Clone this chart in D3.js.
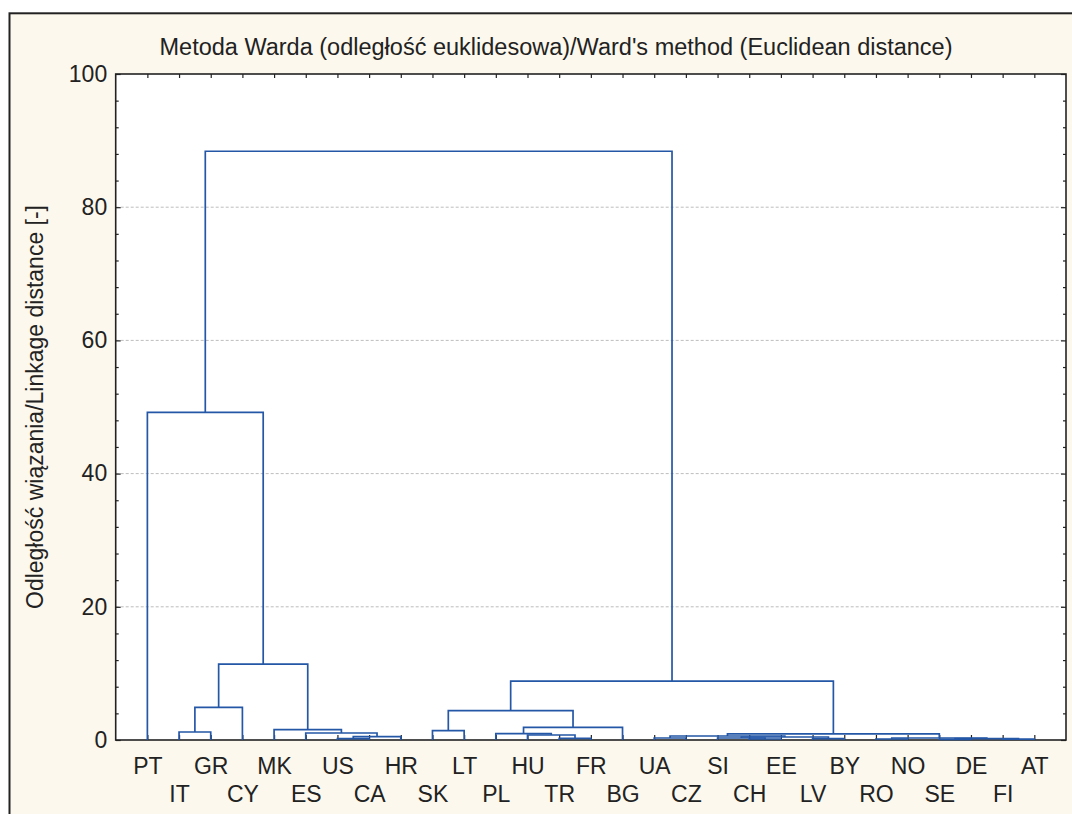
<!DOCTYPE html>
<html>
<head>
<meta charset="utf-8">
<script src="https://cdn.jsdelivr.net/npm/d3@7"></script>
<style>
  body { margin: 0; background: #fff; }
  text { font-family: "Liberation Sans", Arial, sans-serif; fill: #222; }
</style>
</head>
<body>
<div id="chart"></div>
<script>
//Leaf order along the x axis
const leaves = ["PT","IT","GR","CY","MK","ES","US","CA","HR","SK","LT","PL","HU","TR","FR",
                "BG","UA","CZ","SI","CH","EE","LV","BY","RO","NO","SE","DE","FI","AT"];

//Merges: [left, right, linkage distance] - a string is a leaf, a number is an earlier merge
const merges = [
    ["IT","GR",1.2],     //0
    [0,"CY",4.9],        //1
    ["US","CA",0.2],     //2
    [2,"HR",0.5],        //3
    ["ES",3,1.05],       //4
    ["MK",4,1.55],       //5
    [1,5,11.4],          //6
    ["PT",6,49.2],       //7
    ["SK","LT",1.4],     //8
    ["TR","FR",0.25],    //9
    ["HU",9,0.75],       //10
    ["PL",10,0.95],      //11
    [11,"BG",1.9],       //12
    [8,12,4.4],          //13
    ["UA","CZ",0.3],     //14
    ["CH","EE",0.15],    //15
    ["SI",15,0.3],       //16
    ["LV","BY",0.2],     //17
    [16,17,0.45],        //18
    [14,18,0.6],         //19
    ["RO","NO",0.15],    //20
    ["SE","DE",0.1],     //21
    ["FI","AT",0.12],    //22
    [21,22,0.2],         //23
    [20,23,0.3],         //24
    [19,24,0.92],        //25
    [13,25,8.85],        //26
    [7,26,88.4]          //27
];

//Axis ticks
const majorTicks = [0, 20, 40, 60, 80, 100];
const minorTicks = d3.range(0, 101, 4).filter(v => v % 20 !== 0);

const title = "Metoda Warda (odległość euklidesowa)/Ward's method (Euclidean distance)";
const yTitle = "Odległość wiązania/Linkage distance [-]";

//SCRIPT PROPERTIES
const w = 1072, h = 814;
const plot = {left: 115.7, right: 1066, top: 74, bottom: 740};
const lineColor = "#2557a7";

const svg = d3.select("#chart").append("svg")
    .attr("width", w)
    .attr("height", h);

//Outer frame with cream fill
svg.append("rect")
    .attr("x", 9.5).attr("y", 13.3)
    .attr("width", w + 20).attr("height", h + 20)
    .attr("fill", "#fcf8ed")
    .attr("stroke", "#222")
    .attr("stroke-width", 2);

//Plot area
svg.append("rect")
    .attr("x", plot.left).attr("y", plot.top)
    .attr("width", plot.right - plot.left).attr("height", plot.bottom - plot.top)
    .attr("fill", "#fff");

//Scales
const x = d3.scalePoint().domain(leaves).range([plot.left, plot.right]).padding(1);
const y = d3.scaleLinear().domain([0, 100]).range([plot.bottom, plot.top]);

//Grid lines
svg.append("g")
    .selectAll("line")
    .data(majorTicks.filter(v => v > 0 && v < 100))
    .enter().append("line")
    .attr("x1", plot.left).attr("x2", plot.right)
    .attr("y1", d => y(d)).attr("y2", d => y(d))
    .attr("stroke", "#bdbdbd")
    .attr("stroke-width", 1)
    .attr("stroke-dasharray", "3,2");

//Left axis - major with labels, minor without
const leftMajor = svg.append("g")
    .attr("transform", `translate(${plot.left},0)`)
    .call(d3.axisLeft(y).tickValues(majorTicks).tickSize(-5).tickSizeOuter(0).tickPadding(8.5));
svg.append("g")
    .attr("transform", `translate(${plot.left},0)`)
    .call(d3.axisLeft(y).tickValues(minorTicks).tickSize(-3).tickSizeOuter(0).tickFormat(""));

//Right axis
svg.append("g")
    .attr("transform", `translate(${plot.right},0)`)
    .call(d3.axisRight(y).tickValues(majorTicks).tickSize(-5).tickSizeOuter(0).tickFormat(""));
svg.append("g")
    .attr("transform", `translate(${plot.right},0)`)
    .call(d3.axisRight(y).tickValues(minorTicks).tickSize(-3).tickSizeOuter(0).tickFormat(""));

//Bottom axis with two staggered rows of labels
const bottomAxis = svg.append("g")
    .attr("transform", `translate(0,${plot.bottom})`)
    .call(d3.axisBottom(x).tickSize(-5).tickSizeOuter(0).tickPadding(17.7));
bottomAxis.selectAll(".tick text")
    .attr("y", (d, i) => i % 2 === 0 ? 17.7 : 45.7);

//Top axis
svg.append("g")
    .attr("transform", `translate(0,${plot.top})`)
    .call(d3.axisTop(x).tickSize(-4).tickSizeOuter(0).tickFormat(""));

//Style axes
svg.selectAll(".domain").remove();
svg.selectAll(".tick line").attr("stroke", "#222").attr("stroke-width", 1.2);
svg.selectAll(".tick text")
    .attr("font-family", "Liberation Sans, Arial, sans-serif")
    .attr("font-size", 23)
    .attr("fill", "#222");

//Plot border
svg.append("rect")
    .attr("x", plot.left).attr("y", plot.top)
    .attr("width", plot.right - plot.left).attr("height", plot.bottom - plot.top)
    .attr("fill", "none")
    .attr("stroke", "#222")
    .attr("stroke-width", 1.6);

//Dendrogram - compute merge positions
const mergeX = [];
const nodeX = ref => typeof ref === "string" ? x(ref) : mergeX[ref];
const nodeH = ref => typeof ref === "string" ? 0 : merges[ref][2];
merges.forEach((m, i) => { mergeX[i] = (nodeX(m[0]) + nodeX(m[1])) / 2; });

svg.append("g")
    .attr("class", "dendrogram")
    .selectAll("path")
    .data(merges)
    .enter().append("path")
    .attr("d", m => {
        const p = d3.path();
        p.moveTo(nodeX(m[0]), y(nodeH(m[0])));
        p.lineTo(nodeX(m[0]), y(m[2]));
        p.lineTo(nodeX(m[1]), y(m[2]));
        p.lineTo(nodeX(m[1]), y(nodeH(m[1])));
        return p.toString();
    })
    .attr("fill", "none")
    .attr("stroke", lineColor)
    .attr("stroke-width", 1.7);

//Root stem is not drawn above the top merge

//Title
svg.append("text")
    .attr("x", 556).attr("y", 55)
    .attr("text-anchor", "middle")
    .attr("font-size", 23.5)
    .text(title);

//Y axis title
svg.append("text")
    .attr("transform", `translate(43,${(plot.top + plot.bottom) / 2}) rotate(-90)`)
    .attr("text-anchor", "middle")
    .attr("font-size", 23)
    .text(yTitle);
</script>
</body>
</html>
